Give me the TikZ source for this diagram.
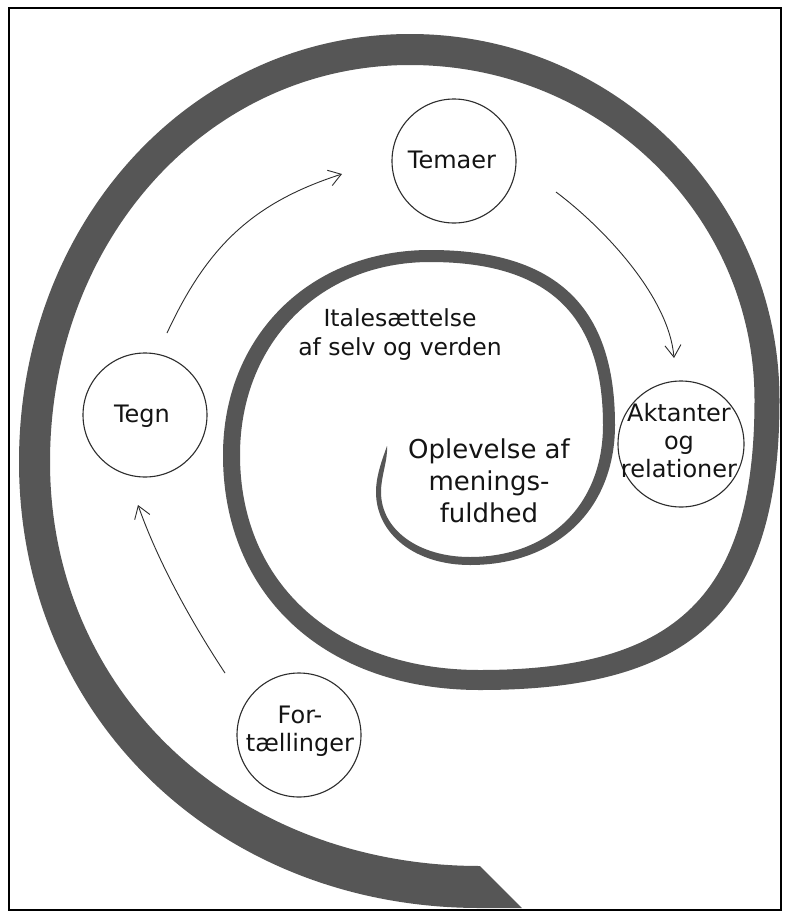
\documentclass[tikz,border=0pt]{standalone}
\usepackage{fontspec}
\setmainfont{DejaVu Sans}
\usetikzlibrary{arrows.meta}
\definecolor{spiralgray}{RGB}{86,86,86}
\definecolor{inkgray}{RGB}{45,45,45}
\begin{document}
\begin{tikzpicture}[x=1pt,y=-1pt,
  stage/.style={circle,draw=inkgray,line width=1.1pt,minimum size=124pt,inner sep=0pt},
  lbl/.style={align=center,text=black!92,font=\fontsize{24}{28}\selectfont,inner sep=0pt},
  core/.style={align=center,text=black!92,font=\fontsize{26}{32}\selectfont,inner sep=0pt},
  flow/.style={draw=inkgray,line width=0.9pt,-{Straight Barb[length=12pt,width=16pt]}}]

\useasboundingbox (0,0) rectangle (789,918);
\fill[white] (0,0) rectangle (789,918);

% tapering spiral band, built from quarter turns between the extreme points
% of each lap: outward edge from the inner tip to the cut end, then back
% along the inward edge
\fill[spiralgray]
  (387,446) .. controls (382,460) and (376,476) .. (376,492)
  .. controls (376,534.3) and (415.5,565) .. (470,565)
  .. controls (557,565) and (615,509) .. (615,425)
  .. controls (615,306) and (555.8,250) .. (430,250)
  .. controls (309.9,250) and (223,336.1) .. (223,455)
  .. controls (223,596) and (325.8,690) .. (480,690)
  .. controls (695.6,690) and (779.5,608.8) .. (779.5,400)
  .. controls (779.5,197.9) and (614.1,34) .. (410,34)
  .. controls (191,34) and (19,222.3) .. (19,462)
  .. controls (19,716.2) and (217.2,908) .. (480,908)
  -- (522,908) -- (480,866)
  .. controls (234.9,866) and (50,692.3) .. (50,462)
  .. controls (50,239.7) and (208.4,65) .. (410,65)
  .. controls (600.3,65) and (754.5,215) .. (754.5,400)
  .. controls (754.5,594.4) and (677.6,670) .. (480,670)
  .. controls (336,670) and (240,584) .. (240,455)
  .. controls (240,343.1) and (319.8,262) .. (430,262)
  .. controls (547.6,262) and (603,314.2) .. (603,425)
  .. controls (603,504.2) and (549.8,557) .. (470,557)
  .. controls (418.4,557) and (381,529.7) .. (381,492)
  .. controls (381,476) and (388,460) .. (387,446)
  -- cycle;

% the four stations on the way round
\node[stage] (temaer) at (454,161) {};
\node[stage] (tegn) at (145,415) {};
\node[stage,minimum size=126pt] (aktanter) at (681,444) {};
\node[stage] (fort) at (299,735) {};

% free ends of the flow arrows
\coordinate (fortOut) at (225,673);
\coordinate (tegnIn) at (138,505);
\coordinate (tegnOut) at (167,333);
\coordinate (temaerIn) at (342,174);
\coordinate (temaerOut) at (556,192);
\coordinate (aktIn) at (674,358);

\draw[flow] (fortOut) .. controls (192,623) and (158,562) .. (tegnIn);
\draw[flow] (tegnOut) .. controls (207,247) and (252,203) .. (temaerIn);
\draw[flow] (temaerOut) .. controls (604,228) and (669,297) .. (aktIn);

% labels
\node[lbl] (temaerTxt) at (452,160) {Temaer};
\node[lbl] (tegnTxt) at (142,416) {Tegn};
\node[lbl] (aktTxt) at (679,441) {Aktanter\\og\\relationer};
\node[lbl] (fortTxt) at (300,731) {For-\\tællinger};
\node[lbl,font=\fontsize{23.5}{29}\selectfont] (italTxt) at (400,335) {Italesættelse\\af selv og verden};
\node[core] (coreTxt) at (489,481) {Oplevelse af\\menings-\\fuldhed};

% frame
\draw[black,line width=2pt] (9,8) rectangle (781,910);
\end{tikzpicture}
\end{document}
